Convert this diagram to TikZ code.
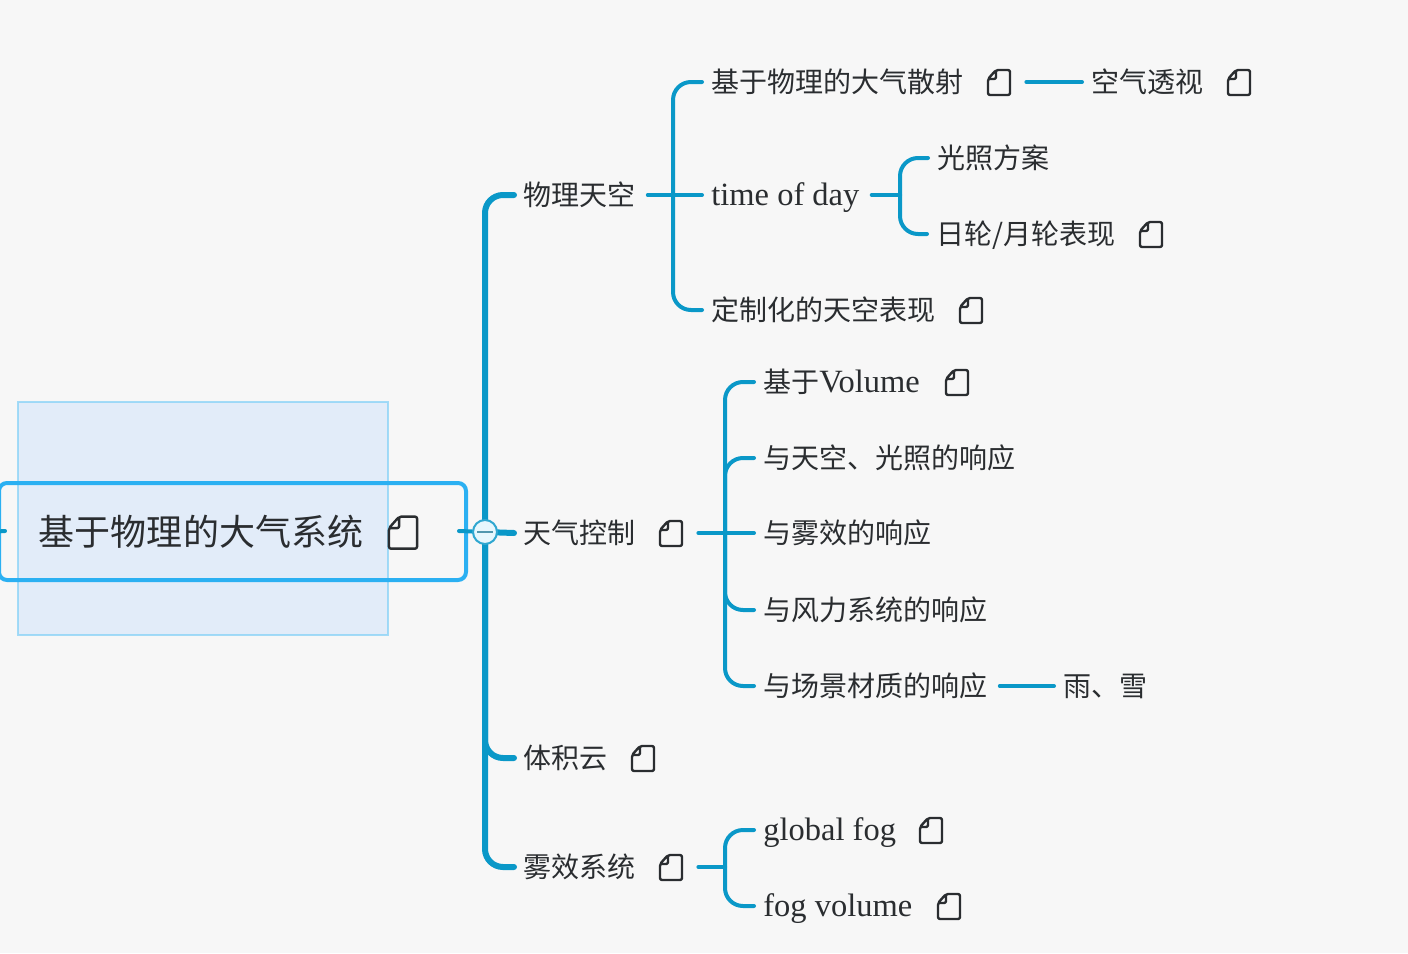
\documentclass[tikz,border=0pt]{standalone}
\usepackage{fontspec}
\setmainfont{Noto Sans CJK SC}
\newfontfamily\latinfont[Scale=1.16]{Liberation Serif}
\usetikzlibrary{positioning}
\definecolor{trunkblue}{HTML}{0A98C8}
\definecolor{ringblue}{HTML}{2BB0F2}
\definecolor{inkdark}{HTML}{2A2D30}
\newcommand{\noteglyph}[1]{\draw[shift={(path picture bounding box.center)},x=#1pt,y=-#1pt,inkdark,line width=1.2pt,line join=round,rounded corners=1pt] (-11,-3) -- (-3,-12) -- (11,-12) -- (11,13) -- (-11,13) -- cycle (-3,-12) -- (-3,-3) -- (-11,-3);}
\tikzset{
  topic/.style={anchor=west,inner xsep=4.5pt,inner ysep=0pt,text height=12pt,text depth=1.5pt,text=inkdark,font=\fontsize{14}{16}\selectfont},
  noteicon/.style={minimum width=27pt,minimum height=15pt,inner sep=0pt,path picture={\noteglyph{0.5}}},
  bignote/.style={minimum width=20pt,minimum height=19pt,inner sep=0pt,path picture={\noteglyph{0.64}}},
  trunk/.style={draw=trunkblue,line width=3pt,line cap=round,rounded corners=9pt},
  twig/.style={draw=trunkblue,line width=2pt,line cap=round,rounded corners=9pt},
  textgap/.style={shorten <=1.5pt},
  rootbox/.style={draw=ringblue,line width=2pt,rounded corners=4pt,anchor=west,minimum height=48.5pt,inner xsep=20pt,inner ysep=0pt,text width=193.5pt,align=left,text=inkdark,font=\fontsize{18}{22}\selectfont},
  selbox/.style={draw=ringblue!60,line width=.8pt,fill=blue!55!cyan!30,fill opacity=.3,draw opacity=.7,minimum width=185pt,minimum height=116.5pt,inner sep=0pt},
  foldmark/.style={circle,draw=trunkblue!85,line width=1pt,fill=white!90!cyan,minimum size=12pt,inner sep=0pt,path picture={\draw[trunkblue!70!black!70,line width=.8pt] ([xshift=-4pt]path picture bounding box.center) -- ([xshift=4pt]path picture bounding box.center);}},
}
\begin{document}
\begin{tikzpicture}[x=0.5pt,y=-0.5pt]
\useasboundingbox[fill=black!3] (0,0) rectangle (1408,953);
% root
\node[selbox] (sel) at (203,518.5) {};
\node[rootbox] (root) at (-3,531.5) {基于物理的大气系统};
\node[bignote] (rootnote) at (403,532) {};
% first level
\node[topic] (wuli) at (514,195) {物理天空};
\node[topic] (tianqi) at (514,533) {天气控制};
\node[noteicon] (tianqinote) at (671,533) {};
\node[topic] (yun) at (514,758) {体积云};
\node[noteicon] (yunnote) at (643,758) {};
\node[topic] (wuxiao) at (514,867) {雾效系统};
\node[noteicon] (wuxiaonote) at (671,867) {};
% physical sky
\node[topic] (sanshe) at (702,82) {基于物理的大气散射};
\node[noteicon] (sanshenote) at (999,82) {};
\node[topic] (toushi) at (1082,82) {空气透视};
\node[noteicon] (toushinote) at (1239,82) {};
\node[topic] (tod) at (702,195) {\latinfont time of day};
\node[topic] (guangzhao) at (928,158) {光照方案};
\node[topic] (rilun) at (927,234) {日轮/月轮表现};
\node[noteicon] (rilunnote) at (1151,234) {};
\node[topic] (dingzhi) at (702,310) {定制化的天空表现};
\node[noteicon] (dingzhinote) at (971,310) {};
% weather
\node[topic] (volume) at (754,382) {基于{\latinfont Volume}};
\node[noteicon] (volumenote) at (957,382) {};
\node[topic] (xiang1) at (754,458) {与天空、光照的响应};
\node[topic] (xiang2) at (754,533) {与雾效的响应};
\node[topic] (xiang3) at (754,610) {与风力系统的响应};
\node[topic] (xiang4) at (754,686) {与场景材质的响应};
\node[topic] (yuxue) at (1054,686) {雨、雪};
% fog
\node[topic] (gfog) at (754,830) {\latinfont global fog};
\node[noteicon] (gfognote) at (931,830) {};
\node[topic] (vfog) at (754,906) {\latinfont fog volume};
\node[noteicon] (vfognote) at (949,906) {};
% junctions
\coordinate (lstub) at (5,531);
\coordinate (rstub) at (459,531);
\coordinate (s0) at (485,532);
\coordinate (s1) at (673,195);
\coordinate (s2) at (900,195);
\coordinate (s3) at (725,533);
\coordinate (s4) at (725,867);
% connectors
\draw[twig] (root.west) -- (lstub);
\draw[twig] (rstub) -- (s0);
\draw[trunk] (s0) |- (wuli.west);
\draw[trunk] (s0) -- (tianqi.west);
\draw[trunk] (s0) |- (yun.west);
\draw[trunk] (s0) |- (wuxiao.west);
\draw[twig,textgap] (wuli.east) -- (tod.west);
\draw[twig] (s1) |- (sanshe.west);
\draw[twig] (s1) |- (dingzhi.west);
\draw[twig] (sanshenote.east) -- (toushi.west);
\draw[twig,textgap] (tod.east) -- (s2);
\draw[twig] (s2) |- (guangzhao.west);
\draw[twig] (s2) |- (rilun.west);
\draw[twig] (tianqinote.east) -- (s3);
\draw[twig] (s3) |- (volume.west);
\draw[twig] (s3) |- (xiang1.west);
\draw[twig] (s3) -- (xiang2.west);
\draw[twig] (s3) |- (xiang3.west);
\draw[twig] (s3) |- (xiang4.west);
\draw[twig,textgap] (xiang4.east) -- (yuxue.west);
\draw[twig] (wuxiaonote.east) -- (s4);
\draw[twig] (s4) |- (gfog.west);
\draw[twig] (s4) |- (vfog.west);
\node[foldmark] (fold) at (s0) {};
\end{tikzpicture}
\end{document}
